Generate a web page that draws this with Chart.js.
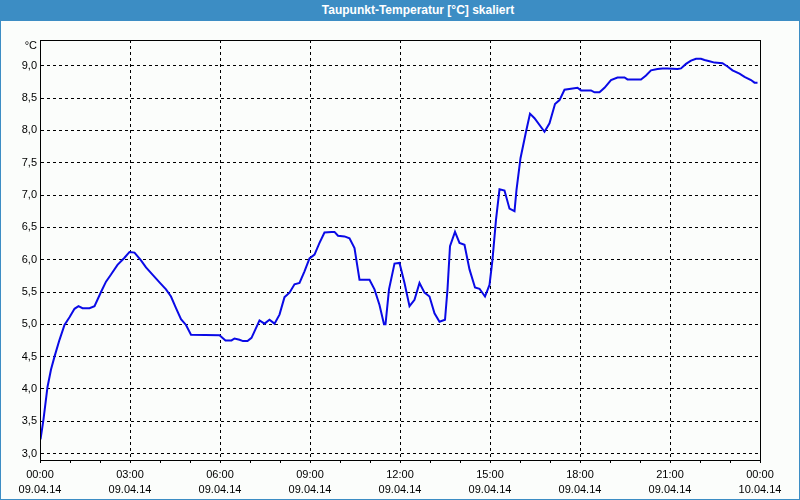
<!DOCTYPE html>
<html>
<head>
<meta charset="utf-8">
<script src="https://cdn.jsdelivr.net/npm/chart.js@4/dist/chart.umd.min.js"></script>
<style>
  html, body { margin: 0; padding: 0; background: #fbfdfb; }
  #win {
    position: relative;
    width: 798px;
    height: 499px;
    border: 1px solid #3c8dc4;
    border-top: none;
    background: #fbfdfb;
  }
  #titlebar {
    position: absolute;
    left: -1px;
    top: 0;
    width: 764px;
    height: 21px;
    padding-left: 36px;
    background: #3c8dc4;
    color: #fff;
    font: bold 12px "Liberation Sans", Arial, sans-serif;
    line-height: 21px;
    text-align: center;
  }
  #plot { position: absolute; left: 0; top: 21px; }
</style>
</head>
<body>
<div id="win">
  <div id="titlebar">Taupunkt-Temperatur [°C] skaliert</div>
  <canvas id="plot" width="798" height="478"></canvas>
</div>
<script>
  // Messzeitpunkte (09.04.14) und Taupunkt in °C
  const times = [
    '00:01', '00:07', '00:15', '00:22', '00:29', '00:39', '00:49', '00:59',
    '01:09', '01:17', '01:25', '01:39', '01:49', '02:02', '02:12', '02:22',
    '02:35', '02:49', '02:59', '03:09', '03:22', '03:32', '03:45', '03:59',
    '04:12', '04:22', '04:32', '04:42', '04:52', '05:02', '05:59', '06:11',
    '06:23', '06:29', '06:39', '06:46', '06:55', '07:03', '07:09', '07:19',
    '07:29', '07:39', '07:49', '07:59', '08:09', '08:19', '08:29', '08:39',
    '08:49', '08:59', '09:09', '09:19', '09:29', '09:43', '09:49', '09:56',
    '10:09', '10:19', '10:29', '10:39', '10:59', '11:09', '11:19', '11:28',
    '11:31', '11:38', '11:49', '11:59', '12:09', '12:19', '12:29', '12:39',
    '12:49', '12:59', '13:09', '13:19', '13:30', '13:35', '13:40', '13:50',
    '13:59', '14:09', '14:19', '14:30', '14:39', '14:50', '14:59', '15:05',
    '15:12', '15:19', '15:29', '15:39', '15:49', '15:53', '16:01', '16:12',
    '16:20', '16:29', '16:49', '16:59', '17:10', '17:19', '17:29', '17:55',
    '18:02', '18:22', '18:29', '18:39', '18:49', '19:02', '19:15', '19:29',
    '19:35', '20:02', '20:12', '20:22', '20:35', '20:45', '20:55', '21:15',
    '21:22', '21:32', '21:42', '21:52', '22:02', '22:09', '22:19', '22:29',
    '22:45', '22:55', '23:05', '23:19', '23:29', '23:42', '23:49', '23:55',
  ];
  const dewPoint = [
    3.22, 3.53, 4.03, 4.30, 4.50, 4.76, 4.99, 5.11,
    5.24, 5.28, 5.25, 5.25, 5.28, 5.50, 5.66, 5.77,
    5.92, 6.03, 6.12, 6.11, 5.99, 5.88, 5.77, 5.65,
    5.54, 5.43, 5.25, 5.08, 4.99, 4.84, 4.83, 4.75,
    4.75, 4.78, 4.76, 4.74, 4.74, 4.79, 4.89, 5.06,
    5.01, 5.07, 5.01, 5.15, 5.42, 5.49, 5.62, 5.64,
    5.82, 6.02, 6.08, 6.26, 6.42, 6.43, 6.43, 6.37,
    6.36, 6.33, 6.18, 5.69, 5.69, 5.54, 5.30, 5.00,
    5.00, 5.54, 5.94, 5.95, 5.64, 5.28, 5.38, 5.64,
    5.49, 5.43, 5.17, 5.04, 5.07, 5.54, 6.21, 6.43,
    6.26, 6.23, 5.85, 5.57, 5.55, 5.43, 5.61, 6.00,
    6.62, 7.09, 7.07, 6.79, 6.75, 7.08, 7.57, 7.98,
    8.26, 8.19, 7.98, 8.11, 8.41, 8.47, 8.63, 8.66,
    8.62, 8.62, 8.59, 8.59, 8.66, 8.78, 8.82, 8.82,
    8.79, 8.79, 8.85, 8.93, 8.95, 8.96, 8.96, 8.95,
    8.96, 9.03, 9.08, 9.11, 9.11, 9.09, 9.07, 9.05,
    9.04, 8.99, 8.93, 8.88, 8.83, 8.78, 8.74, 8.74,
  ];
  const hourLabels = ['00:00', '03:00', '06:00', '09:00', '12:00', '15:00', '18:00', '21:00', '00:00'];
  const dateLabels = ['09.04.14', '09.04.14', '09.04.14', '09.04.14', '09.04.14', '09.04.14', '09.04.14', '09.04.14', '10.04.14'];
  const yTicks = [3.0, 3.5, 4.0, 4.5, 5.0, 5.5, 6.0, 6.5, 7.0, 7.5, 8.0, 8.5, 9.0];
  const yMin = 2.9;
  const yMax = 9.4;

  function toHours(t) {
    const [h, m] = t.split(':').map(Number);
    return h + m / 60;
  }

  const points = times.map((t, i) => ({ x: toHours(t), y: dewPoint[i] }));

  const frame = {
    id: 'frame',
    afterDraw(chart) {
      const { ctx, chartArea: a } = chart;
      ctx.save();
      ctx.strokeStyle = '#000';
      ctx.lineWidth = 1;
      ctx.strokeRect(Math.round(a.left) + 0.5, Math.round(a.top) + 0.5,
        Math.round(a.right - a.left), Math.round(a.bottom - a.top));
      ctx.fillStyle = '#000';
      ctx.font = '11px "Liberation Sans", Arial, sans-serif';
      ctx.textAlign = 'right';
      ctx.textBaseline = 'middle';
      ctx.fillText('°C', a.left - 3, a.top + 6);
      ctx.restore();
    },
  };

  Chart.defaults.font.family = '"Liberation Sans", Arial, sans-serif';
  Chart.defaults.font.size = 11;
  Chart.defaults.color = '#000';

  new Chart(document.getElementById('plot'), {
    type: 'line',
    data: {
      datasets: [{
        data: points,
        borderColor: '#0a0ae6',
        borderWidth: 2,
        pointRadius: 0,
        tension: 0,
        fill: false,
      }],
    },
    options: {
      responsive: false,
      devicePixelRatio: 1,
      animation: false,
      layout: { padding: { top: 19, right: 39, left: 0, bottom: 0 } },
      plugins: { legend: { display: false }, tooltip: { enabled: false } },
      scales: {
        x: {
          type: 'linear',
          min: 0,
          max: 24,
          afterFit(scale) { scale.height = 39; },
          border: { color: '#000', dash: [3, 3] },
          grid: {
            color: (c) => (c.tick && c.tick.value % 3 === 0 ? '#000' : 'rgba(0,0,0,0)'),
            tickColor: '#000',
            tickLength: 3,
            tickBorderDash: [],
          },
          ticks: {
            stepSize: 1,
            autoSkip: false,
            maxRotation: 0,
            padding: 4,
            font: { lineHeight: '15px' },
            callback: (v) => (v % 3 === 0 ? [hourLabels[v / 3], dateLabels[v / 3]] : ''),
          },
        },
        y: {
          min: yMin,
          max: yMax,
          afterFit(scale) { scale.width = 39; },
          afterBuildTicks(scale) { scale.ticks = yTicks.map((v) => ({ value: v })); },
          border: { color: '#000', dash: [3, 3] },
          grid: { color: '#000', drawTicks: false },
          ticks: {
            padding: 3,
            callback: (v) => v.toFixed(1).replace('.', ','),
          },
        },
      },
    },
    plugins: [frame],
  });
</script>
</body>
</html>
